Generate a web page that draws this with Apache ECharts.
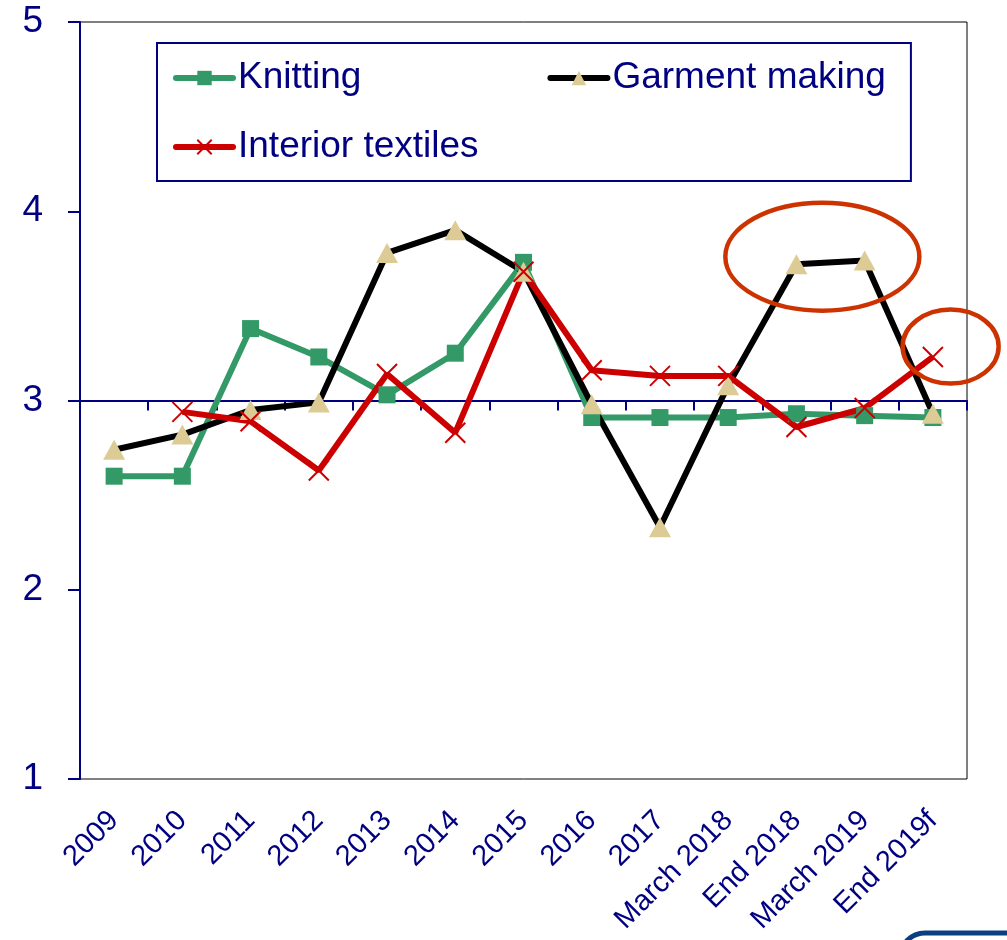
<!DOCTYPE html>
<html>
<head>
<meta charset="utf-8">
<script src="https://cdn.jsdelivr.net/npm/echarts@6/dist/echarts.min.js"></script>
<style>
html,body{margin:0;padding:0;background:#fff;}
#main{width:1007px;height:940px;}
</style>
</head>
<body>
<div id="main"></div>
<script>
var categories=['2009','2010','2011','2012','2013','2014','2015','2016','2017','March 2018','End 2018','March 2019','End 2019f'];
var knitting=[2.60,2.60,3.38,3.23,3.03,3.25,3.73,2.91,2.91,2.91,2.93,2.92,2.91];
var garmentMaking=[2.74,2.82,2.95,2.99,3.78,3.90,3.68,2.98,2.33,3.08,3.72,3.74,2.93];
var interiorTextiles=[null,2.94,2.89,2.63,3.14,2.83,3.68,3.16,3.13,3.13,2.86,2.96,3.23];
var yTicks=[1,2,3,4,5];
var crossAt=3;

var navy='#000080';
var font='Liberation Sans';

var dom=document.getElementById('main');
var myChart=echarts.init(dom);
var legendText={fontSize:37,color:navy,lineHeight:40,fontFamily:font};
var option={
    animation:false,
    textStyle:{fontFamily:font},
    grid:[
        {left:80,right:40,top:22,bottom:161,show:true,borderColor:'#000',borderWidth:1},
        // thin helper grid whose top edge is the crossing line at 3
        {left:80,right:40,top:400.5,height:1}
    ],
    legend:[
        {
            data:['Knitting','Garment making'],
            left:157,top:43,
            itemGap:186,itemWidth:57,itemHeight:18,
            padding:[15,25,83,16],
            borderColor:navy,borderWidth:2,
            selectedMode:false,
            lineStyle:{width:6,cap:'round'},
            textStyle:legendText
        },
        {
            data:['Interior textiles'],
            left:157,top:127,
            itemWidth:57,itemHeight:18,
            padding:[0,0,0,16],
            selectedMode:false,
            lineStyle:{width:6,cap:'round'},
            textStyle:legendText
        }
    ],
    xAxis:[
        {
            type:'category',
            data:categories,
            gridIndex:0,
            position:'bottom',
            axisLine:{show:false},
            axisTick:{show:false},
            axisLabel:{interval:0,rotate:45,fontSize:29,color:navy,margin:37,fontFamily:font}
        },
        {
            type:'category',
            data:categories,
            gridIndex:1,
            position:'top',
            axisLine:{show:true,lineStyle:{color:navy,width:2}},
            axisTick:{show:true,inside:true,length:10,interval:0,lineStyle:{color:navy,width:2}},
            axisLabel:{show:false}
        }
    ],
    yAxis:[
        {
            type:'value',
            gridIndex:0,
            min:yTicks[0],max:yTicks[yTicks.length-1],interval:1,
            axisLine:{show:true,lineStyle:{color:navy,width:2}},
            axisTick:{show:true,length:12,lineStyle:{color:navy,width:2}},
            axisLabel:{fontSize:37,color:navy,margin:37,fontFamily:font},
            splitLine:{show:false}
        },
        {
            type:'value',
            gridIndex:1,
            min:crossAt,max:crossAt+1,
            show:false
        }
    ],
    series:[
        {
            name:'Knitting',
            type:'line',
            data:knitting,
            symbol:'rect',symbolSize:17,
            lineStyle:{color:'#339966',width:6},
            itemStyle:{color:'#339966'}
        },
        {
            name:'Garment making',
            type:'line',
            data:garmentMaking,
            symbol:'triangle',symbolSize:[22,20],
            lineStyle:{color:'#000',width:6},
            itemStyle:{color:'#DDCB96'}
        },
        {
            name:'Interior textiles',
            type:'line',
            data:interiorTextiles,
            symbol:'path://M0,0L10,10M10,0L0,10',symbolSize:20,
            lineStyle:{color:'#CC0000',width:6},
            itemStyle:{color:'#CC0000',borderColor:'#CC0000',borderWidth:2}
        }
    ]
};
myChart.setOption(option,true);

// annotation ellipses placed from the axes
var p10=myChart.convertToPixel({xAxisIndex:0,yAxisIndex:0},[10,3.76]);
var p11=myChart.convertToPixel({xAxisIndex:0,yAxisIndex:0},[11,3.76]);
var p12=myChart.convertToPixel({xAxisIndex:0,yAxisIndex:0},[12,3.285]);
var step=p11[0]-p10[0];
myChart.setOption({
    graphic:[
        {type:'ellipse',shape:{cx:p10[0]+0.38*step,cy:p10[1],rx:97,ry:54},style:{fill:null,stroke:'#CC3300',lineWidth:4.5},z:100},
        {type:'ellipse',shape:{cx:p12[0]+0.26*step,cy:p12[1],rx:48,ry:37},style:{fill:null,stroke:'#CC3300',lineWidth:4.5},z:100},
        {type:'rect',shape:{x:900,y:933,width:150,height:60,r:25},style:{fill:'#fff',stroke:'#0B3F7F',lineWidth:5},z:100}
    ]
});
</script>
</body>
</html>
